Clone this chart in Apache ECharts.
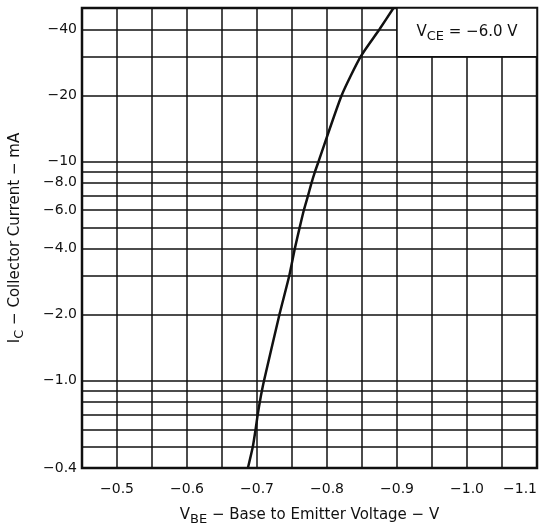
<!DOCTYPE html>
<html>
<head>
<meta charset="utf-8">
<script src="https://cdn.jsdelivr.net/npm/echarts@6/dist/echarts.min.js"></script>
<style>
  html, body { margin: 0; padding: 0; background: #fff; }
  #chart { width: 547px; height: 527px; }
</style>
</head>
<body>
<div id="chart"></div>
<script>
// base-emitter voltage magnitude (V) and collector current magnitude (mA)
const vbe = [0.687, 0.694, 0.698, 0.701, 0.704, 0.707, 0.710, 0.732, 0.746, 0.754, 0.761, 0.767, 0.773, 0.778, 0.783, 0.788, 0.821, 0.848, 0.875, 0.895];
const ic = [0.4, 0.5, 0.6, 0.7, 0.8, 0.9, 1.0, 2.0, 3.0, 4.0, 5.0, 6.0, 7.0, 8.0, 9.0, 10, 20, 30, 40, 50];

// grid lines and tick labels
const yGrid = [0.4, 0.5, 0.6, 0.7, 0.8, 0.9, 1, 2, 3, 4, 5, 6, 7, 8, 9, 10, 20, 30, 40, 50];
const yLabels = [0.4, 1, 2, 4, 6, 8, 10, 20, 40];
const xLabels = [0.5, 0.6, 0.7, 0.8, 0.9, 1.0, 1.1];

const FONT = "DejaVu Sans";
const INK = "#111";

const chart = echarts.init(document.getElementById("chart"));

const rich = {
  v: { fontFamily: FONT, fontSize: 15, color: INK, lineHeight: 22 },
  s: { fontFamily: FONT, fontSize: 13, color: INK, lineHeight: 22, verticalAlign: "bottom" },
};

const option = {
  animation: false,
  backgroundColor: "#fff",
  grid: {
    left: 82,
    right: 10,
    top: 8,
    bottom: 59,
    outerBoundsMode: "none",
    show: true,
    borderColor: INK,
    borderWidth: 2.5,
  },
  xAxis: {
    type: "value",
    min: 0.45,
    max: 1.1,
    interval: 0.05,
    name: "{v|V}{s|BE}{v| − Base to Emitter Voltage − V}",
    nameLocation: "middle",
    nameGap: 36,
    nameTextStyle: { rich },
    axisLine: { show: false },
    axisTick: { show: false },
    axisLabel: {
      customValues: xLabels,
      margin: 14,
      alignMaxLabel: "right",
      fontFamily: FONT,
      fontSize: 14,
      color: INK,
      formatter: (v) => "−" + v.toFixed(1),
    },
    splitLine: { show: true, lineStyle: { color: INK, width: 1.5 } },
  },
  yAxis: {
    type: "log",
    logBase: 10,
    min: 0.4,
    max: 50,
    name: "{v|I}{s|C}{v| − Collector Current − mA}",
    nameLocation: "middle",
    nameGap: 56,
    nameTextStyle: { rich },
    axisLine: { show: false },
    axisTick: { show: false, customValues: yGrid },
    axisLabel: {
      customValues: yLabels,
      margin: 5,
      fontFamily: FONT,
      fontSize: 14,
      color: INK,
      formatter: (v) => "−" + (v >= 10 ? String(Math.round(v)) : v.toFixed(1)),
    },
    splitLine: { show: true, lineStyle: { color: INK, width: 1.5 } },
  },
  series: [
    {
      type: "line",
      data: vbe.map((v, i) => [v, ic[i]]),
      smooth: 0.2,
      symbol: "none",
      lineStyle: { color: INK, width: 2.5 },
      markArea: {
        silent: true,
        itemStyle: { color: "#fff", borderColor: INK, borderWidth: 1.5 },
        label: {
          show: true,
          position: "inside",
          formatter: "{v|V}{s|CE}{v| = −6.0 V}",
          rich,
        },
        data: [[{ xAxis: 0.9, yAxis: 30 }, { xAxis: 1.1, yAxis: 50 }]],
      },
    },
  ],
};

chart.setOption(option);
</script>
</body>
</html>
